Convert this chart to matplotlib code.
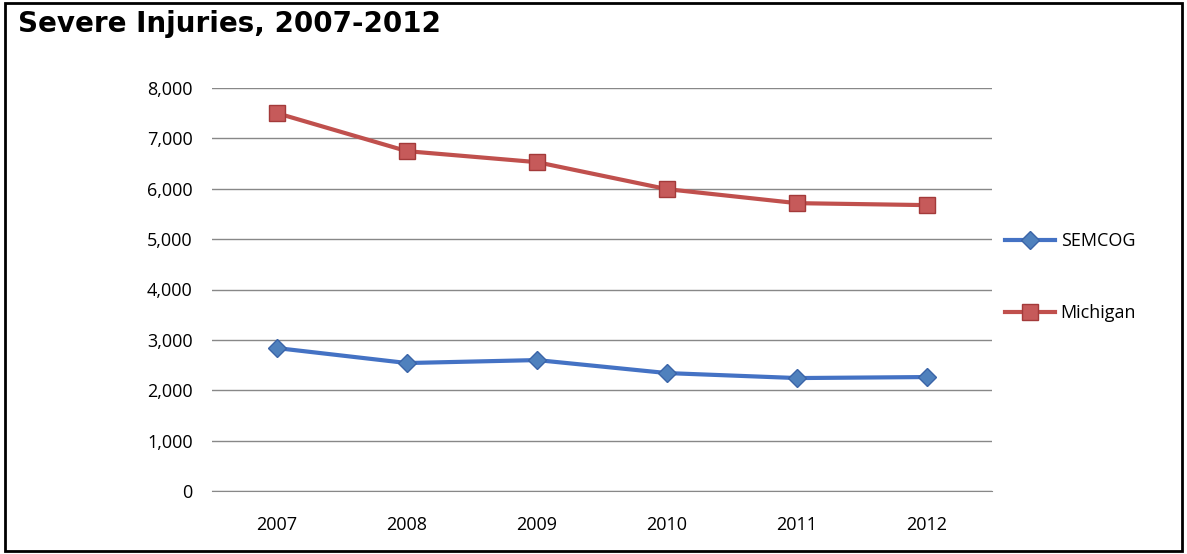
import matplotlib.pyplot as plt
from matplotlib.ticker import FuncFormatter

years = ["2007", "2008", "2009", "2010", "2011", "2012"]
semcog = [2837, 2540, 2599, 2341, 2242, 2262]
michigan = [7500, 6746, 6528, 5992, 5714, 5675]

W, H = 1187, 554
fig = plt.figure(figsize=(W / 100, H / 100), dpi=100)
plt.rcParams['font.family'] = ['Open Sans', 'DejaVu Sans']

# outer frame
fig.patches.append(plt.Rectangle((0.004, 0.005), 0.992, 0.99, transform=fig.transFigure,
                                 fill=False, edgecolor='black', linewidth=2))
fig.text(18 / W, 1 - 24 / H, "Severe Injuries, 2007-2012", fontsize=20, fontweight='heavy',
         va='center', ha='left', family='DejaVu Sans')

ax = fig.add_axes([212 / W, 1 - 491 / H, (992 - 212) / W, (491 - 88) / H])
x = range(len(years))
ax.plot(x, semcog, color='#4472C4', linewidth=3, marker='D', markersize=9,
        markerfacecolor='#4F81BD', markeredgecolor='#3A64A8', label='SEMCOG')
ax.plot(x, michigan, color='#C0504D', linewidth=3, marker='s', markersize=12,
        markerfacecolor='#C65A5A', markeredgecolor='#A33A3A', label='Michigan')

ax.set_xlim(-0.5, 5.5)
ax.set_ylim(0, 8000)
ax.set_yticks(range(0, 8001, 1000))
ax.yaxis.set_major_formatter(FuncFormatter(lambda v, p: f"{int(v):,}"))
ax.set_xticks(list(x))
ax.set_xticklabels(years)
ax.grid(axis='y', color='#888888', linewidth=1)
ax.set_axisbelow(True)
for s in ['top', 'right', 'left']:
    ax.spines[s].set_visible(False)
ax.spines['bottom'].set_color('#888888')
ax.tick_params(axis='y', length=0, labelsize=13, pad=14)
ax.tick_params(axis='x', length=0, labelsize=13, pad=18)

ax.legend(loc='center left', bbox_to_anchor=(1.0, 0.53), frameon=False, fontsize=13,
          handlelength=2.8, handletextpad=0.3, labelspacing=3.0, borderaxespad=0.3)

fig.savefig("out.png", dpi=100)
